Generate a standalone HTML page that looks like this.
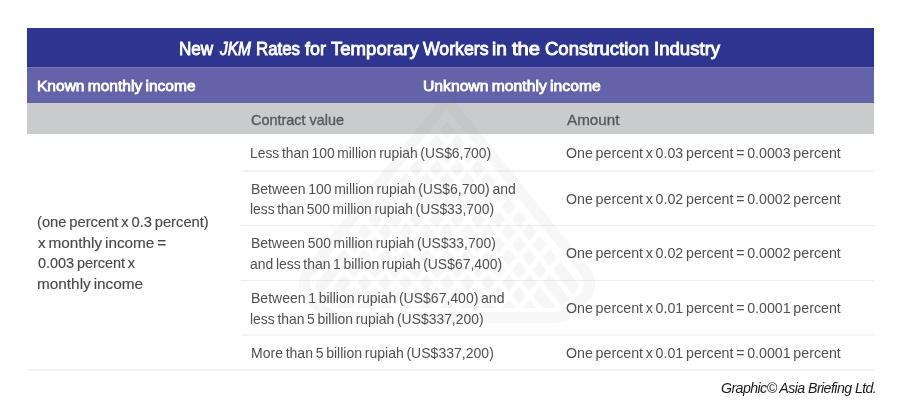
<!DOCTYPE html>
<html><head><meta charset="utf-8"><style>
html,body{margin:0;padding:0;background:#fff}
body{width:900px;height:417px;position:relative;overflow:hidden;font-family:"Liberation Sans",sans-serif}
.bg{position:absolute}
.t{position:absolute;white-space:nowrap;line-height:30px;transform-origin:0 0}
.title{font-size:18.5px;font-weight:normal;font-style:normal;-webkit-text-stroke:0.9px currentColor; color:#ffffff}
.hdr{font-size:15.5px;font-weight:normal;font-style:normal;word-spacing:-1px;-webkit-text-stroke:0.8px currentColor; color:#ffffff}
.sub{font-size:15px;font-weight:normal;font-style:normal;-webkit-text-stroke:0.35px currentColor; color:#58585a}
.body{font-size:15px;font-weight:normal;font-style:normal;word-spacing:-1.3px; color:#505052}
.left{font-size:15px;font-weight:normal;font-style:normal;word-spacing:-1.3px;-webkit-text-stroke:0.15px currentColor; color:#48484a}
.foot{font-size:15px;font-weight:normal;font-style:italic;letter-spacing:-0.6px; color:#1a1a1a}

</style></head><body>
<div class="bg" style="left:27px;top:28px;width:847px;height:39px;background:#2e3591"></div>
<div class="bg" style="left:27px;top:67px;width:847px;height:36px;background:#6462a9"></div>
<div class="bg" style="left:27px;top:67px;width:847px;height:1px;background:#7877b8"></div>
<div class="bg" style="left:27px;top:103px;width:847px;height:31px;background:#cacbcd"></div>
<div class="bg" style="left:241px;top:170px;width:633px;height:2px;background:#f3f3f3"></div>
<div class="bg" style="left:241px;top:225px;width:633px;height:1px;background:#ededed"></div>
<div class="bg" style="left:241px;top:280px;width:633px;height:1px;background:#ededed"></div>
<div class="bg" style="left:241px;top:334px;width:633px;height:2px;background:#f3f3f3"></div>
<div class="bg" style="left:27px;top:369px;width:847px;height:2px;background:#f3f3f3"></div>
<svg class="bg" style="left:0;top:0" width="900" height="417" viewBox="0 0 900 417">
<defs><mask id="im"><rect width="900" height="417" fill="#fff"/><g fill="none" stroke="#000" stroke-width="5"><path d="M0.0 -155.1 l400 494.3" /><path d="M400.0 -155.1 l-400 494.3" /><path d="M20.6 -155.1 l400 494.3" /><path d="M420.6 -155.1 l-400 494.3" /><path d="M41.2 -155.1 l400 494.3" /><path d="M441.2 -155.1 l-400 494.3" /><path d="M61.8 -155.1 l400 494.3" /><path d="M461.8 -155.1 l-400 494.3" /><path d="M82.3 -155.1 l400 494.3" /><path d="M482.3 -155.1 l-400 494.3" /><path d="M102.9 -155.1 l400 494.3" /><path d="M502.9 -155.1 l-400 494.3" /><path d="M123.5 -155.1 l400 494.3" /><path d="M523.5 -155.1 l-400 494.3" /><path d="M144.1 -155.1 l400 494.3" /><path d="M544.1 -155.1 l-400 494.3" /><path d="M164.7 -155.1 l400 494.3" /><path d="M564.7 -155.1 l-400 494.3" /><path d="M185.3 -155.1 l400 494.3" /><path d="M585.3 -155.1 l-400 494.3" /><path d="M205.8 -155.1 l400 494.3" /><path d="M605.8 -155.1 l-400 494.3" /><path d="M226.4 -155.1 l400 494.3" /><path d="M626.4 -155.1 l-400 494.3" /><path d="M247.0 -155.1 l400 494.3" /><path d="M647.0 -155.1 l-400 494.3" /><path d="M267.6 -155.1 l400 494.3" /><path d="M667.6 -155.1 l-400 494.3" /><path d="M288.2 -155.1 l400 494.3" /><path d="M688.2 -155.1 l-400 494.3" /><path d="M308.7 -155.1 l400 494.3" /><path d="M708.7 -155.1 l-400 494.3" /><path d="M329.3 -155.1 l400 494.3" /><path d="M729.3 -155.1 l-400 494.3" /><path d="M349.9 -155.1 l400 494.3" /><path d="M749.9 -155.1 l-400 494.3" /><path d="M370.5 -155.1 l400 494.3" /><path d="M770.5 -155.1 l-400 494.3" /><path d="M391.1 -155.1 l400 494.3" /><path d="M791.1 -155.1 l-400 494.3" /><path d="M411.7 -155.1 l400 494.3" /><path d="M811.7 -155.1 l-400 494.3" /><path d="M432.2 -155.1 l400 494.3" /><path d="M832.2 -155.1 l-400 494.3" /><path d="M452.8 -155.1 l400 494.3" /><path d="M852.8 -155.1 l-400 494.3" /><path d="M473.4 -155.1 l400 494.3" /><path d="M873.4 -155.1 l-400 494.3" /><path d="M494.0 -155.1 l400 494.3" /><path d="M894.0 -155.1 l-400 494.3" /></g></mask></defs>
<g opacity="0.07" fill="none" stroke="#888" stroke-width="11"><path d="M448.3 102.3 L583.9 270.0 Q596.5 285.5 582.0 299.3 L570.1 310.6 Q562.8 317.5 552.8 317.5 L341.2 317.5 Q331.2 317.5 323.9 310.6 L312.0 299.3 Q297.5 285.5 310.1 270.0 L445.7 102.3 Q447.0 100.7 448.3 102.3 Z"/></g>
<path d="M448.3 117.4 L574.8 273.8 Q583.6 284.7 573.5 294.3 L563.4 303.9 Q559.0 308.0 553.0 308.0 L341.0 308.0 Q335.0 308.0 330.6 303.9 L320.5 294.3 Q310.4 284.7 319.2 273.8 L445.7 117.4 Q447.0 115.8 448.3 117.4 Z" fill="#888" opacity="0.07" mask="url(#im)"/>
</svg>
<div class="t title" style="left:178.78px;top:33.90px;transform:scaleX(0.9243)">New</div>
<div class="t title" style="left:220.14px;top:33.90px;transform:scaleX(0.8385)"><i>JKM</i></div>
<div class="t title" style="left:255.69px;top:33.90px;transform:scaleX(0.9106)">Rates</div>
<div class="t title" style="left:305.40px;top:33.90px;transform:scaleX(0.9682)">for</div>
<div class="t title" style="left:331.00px;top:33.90px;transform:scaleX(1.0034)">Temporary</div>
<div class="t title" style="left:423.00px;top:33.90px;transform:scaleX(0.9559)">Workers</div>
<div class="t title" style="left:492.27px;top:33.90px;transform:scaleX(1.0308)">in</div>
<div class="t title" style="left:512.00px;top:33.90px;transform:scaleX(1.0923)">the</div>
<div class="t title" style="left:544.90px;top:33.90px;transform:scaleX(1.0010)">Construction</div>
<div class="t title" style="left:654.00px;top:33.90px;transform:scaleX(1.0046)">Industry</div>
<div class="t hdr" style="left:36.70px;top:71.00px;transform:scaleX(1.0019)">Known monthly income</div>
<div class="t hdr" style="left:422.79px;top:71.00px;transform:scaleX(1.0126)">Unknown monthly income</div>
<div class="t sub" style="left:250.90px;top:104.70px;transform:scaleX(0.9625)">Contract value</div>
<div class="t sub" style="left:567.00px;top:104.70px;transform:scaleX(1.0135)">Amount</div>
<div class="t body" style="left:250.38px;top:137.60px;transform:scaleX(0.9232)">Less than 100 million rupiah (US$6,700)</div>
<div class="t body" style="left:566.05px;top:137.90px;transform:scaleX(0.9481)">One percent x 0.03 percent = 0.0003 percent</div>
<div class="t body" style="left:250.67px;top:173.60px;transform:scaleX(0.9333)">Between 100 million rupiah (US$6,700) and</div>
<div class="t body" style="left:250.38px;top:194.00px;transform:scaleX(0.9228)">less than 500 million rupiah (US$33,700)</div>
<div class="t body" style="left:566.05px;top:183.50px;transform:scaleX(0.9481)">One percent x 0.02 percent = 0.0002 percent</div>
<div class="t body" style="left:250.67px;top:228.00px;transform:scaleX(0.9267)">Between 500 million rupiah (US$33,700)</div>
<div class="t body" style="left:250.37px;top:248.50px;transform:scaleX(0.9285)">and less than 1 billion rupiah (US$67,400)</div>
<div class="t body" style="left:566.05px;top:238.40px;transform:scaleX(0.9481)">One percent x 0.02 percent = 0.0002 percent</div>
<div class="t body" style="left:250.67px;top:283.00px;transform:scaleX(0.9346)">Between 1 billion rupiah (US$67,400) and</div>
<div class="t body" style="left:250.37px;top:303.50px;transform:scaleX(0.9268)">less than 5 billion rupiah (US$337,200)</div>
<div class="t body" style="left:566.05px;top:293.00px;transform:scaleX(0.9481)">One percent x 0.01 percent = 0.0001 percent</div>
<div class="t body" style="left:250.66px;top:337.60px;transform:scaleX(0.9357)">More than 5 billion rupiah (US$337,200)</div>
<div class="t body" style="left:566.05px;top:337.60px;transform:scaleX(0.9481)">One percent x 0.01 percent = 0.0001 percent</div>
<div class="t left" style="left:36.62px;top:206.50px;transform:scaleX(0.9821)">(one percent x 0.3 percent)</div>
<div class="t left" style="left:37.60px;top:227.80px;transform:scaleX(1.0192)">x monthly income =</div>
<div class="t left" style="left:37.60px;top:247.50px;transform:scaleX(0.9624)">0.003 percent x</div>
<div class="t left" style="left:36.58px;top:268.80px;transform:scaleX(1.0225)">monthly income</div>
<div class="t foot" style="left:721.06px;top:372.90px;transform:scaleX(0.9444)">Graphic© Asia Briefing Ltd.</div>
</body></html>
